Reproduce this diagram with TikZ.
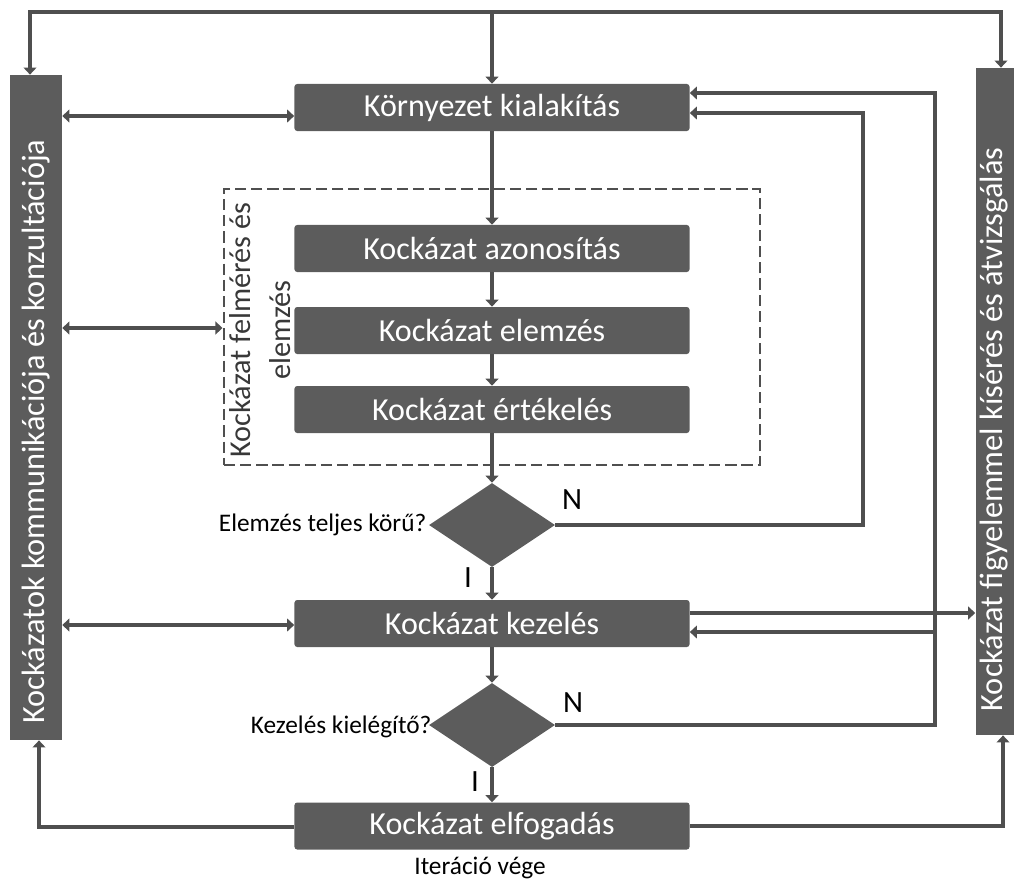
\documentclass[tikz,border=0pt]{standalone}
\usepackage{fontspec}
\setmainfont{Carlito}
\usetikzlibrary{shapes.geometric, arrows.meta}
\definecolor{boxgray}{HTML}{5C5C5C}
\definecolor{linegray}{HTML}{4F4F4F}
\tikzset{
  box/.style={fill=boxgray, rounded corners=2pt, minimum width=9.875cm,
    minimum height=1.175cm, inner sep=0pt, text=white,
    font=\fontsize{22.8}{27}\selectfont},
  bar/.style={fill=boxgray, inner sep=0pt, text=white,
    font=\fontsize{23}{27}\selectfont},
  decision/.style={diamond, fill=boxgray, minimum width=3.15cm,
    minimum height=2.1cm, inner sep=0pt},
  conn/.style={draw=linegray, line width=3.5pt, >={Triangle[length=5pt,width=9pt]}},
  lbl/.style={inner sep=1pt, font=\fontsize{18}{22}\selectfont},
  yn/.style={inner sep=0pt, font=\fontsize{22}{26}\selectfont}
}

\begin{document}
\begin{tikzpicture}[x=0.025cm, y=-0.025cm]
  \useasboundingbox (0,0) rectangle (1016,882);

  % side bars
  \node[bar, minimum width=1.3cm, minimum height=16.625cm] (lbar) at (36,407.5)
    {\rotatebox{90}{Kockázatok kommunikációja és konzultációja\hspace*{1.2cm}}};
  \node[bar, minimum width=0.95cm, minimum height=16.675cm] (rbar) at (994.5,401.5)
    {\rotatebox{90}{Kockázat figyelemmel kísérés és átvizsgálás\hspace*{1.4cm}}};

  % assessment frame
  \node[draw=linegray, dashed, dash pattern=on 8pt off 3.5pt, line width=2pt,
    minimum width=13.4cm, minimum height=6.9cm] (assess) at (492,327) {};
  \node[rotate=90, align=center, text=black!78, font=\fontsize{21.5}{28.5}\selectfont]
    (assesslbl) at (260,330) {Kockázat felmérés és\\elemzés};

  % main flow
  \node[box] (env)  at (492,107.5) {Környezet kialakítás};
  \node[box] (azon) at (492,248.5) {Kockázat azonosítás};
  \node[box] (elem) at (492,330.5) {Kockázat elemzés};
  \node[box] (ert)  at (492,409.5) {Kockázat értékelés};
  \node[decision] (d1) at (492,525) {};
  \node[box] (kez)  at (492,623.5) {Kockázat kezelés};
  \node[decision] (d2) at (492,725) {};
  \node[box] (elf)  at (492,826) {Kockázat elfogadás};

  % labels
  \node[lbl, anchor=east] (q1) at (428,525) {Elemzés teljes körű?};
  \node[yn] (n1) at (572,500) {N};
  \node[yn] (i1) at (468,578) {I};
  \node[lbl, anchor=east] (q2) at (433,727) {Kezelés kielégítő?};
  \node[yn] (n2) at (573,703) {N};
  \node[yn] (i2) at (475,782) {I};
  \node[lbl] (iter) at (480,868) {Iteráció vége};

  % top line
  \coordinate (tl) at (30,12);
  \coordinate (tr) at (1001,12);
  \draw[conn,<->] (tl |- lbar.north) -- (tl) -- (tr) -- (tr |- rbar.north);
  \draw[conn,->] (tl -| env.north) -- (env.north);

  \draw[conn,->] (env) -- (azon);
  \draw[conn,->] (azon) -- (elem);
  \draw[conn,->] (elem) -- (ert);
  \draw[conn,->] (ert) -- (d1);
  \draw[conn,->] (d1) -- (kez);
  \draw[conn,->] (kez) -- (d2);
  \draw[conn,->] (d2) -- (elf);

  % loops back
  \coordinate (lp1) at (863,113);
  \coordinate (lp2) at (935,93);
  \draw[conn,->] (d1.east) -| (lp1) -- (lp1 -| env.east);
  \draw[conn,->] (d2.east) -| (lp2) -- (lp2 -| env.east);

  % to the bars
  \draw[conn,<->] (lbar.east |- 0,116) -- (env.west |- 0,116);
  \draw[conn,<->] (lbar.east |- 0,328) -- (assess.west |- 0,328);
  \draw[conn,<->] (lbar.east |- 0,625) -- (kez.west |- 0,625);
  \draw[conn,->] (kez.east |- 0,613) -- (rbar.west |- 0,613);
  \coordinate (kr) at (935,632);
  \draw[conn,->] (kr) -- (kr -| kez.east);

  \coordinate (bl) at (39,827);
  \coordinate (br) at (1003,826);
  \draw[conn,->] (elf.west |- bl) -- (bl) -- (bl |- lbar.south);
  \draw[conn,->] (elf.east |- br) -- (br) -- (br |- rbar.south);
\end{tikzpicture}
\end{document}
